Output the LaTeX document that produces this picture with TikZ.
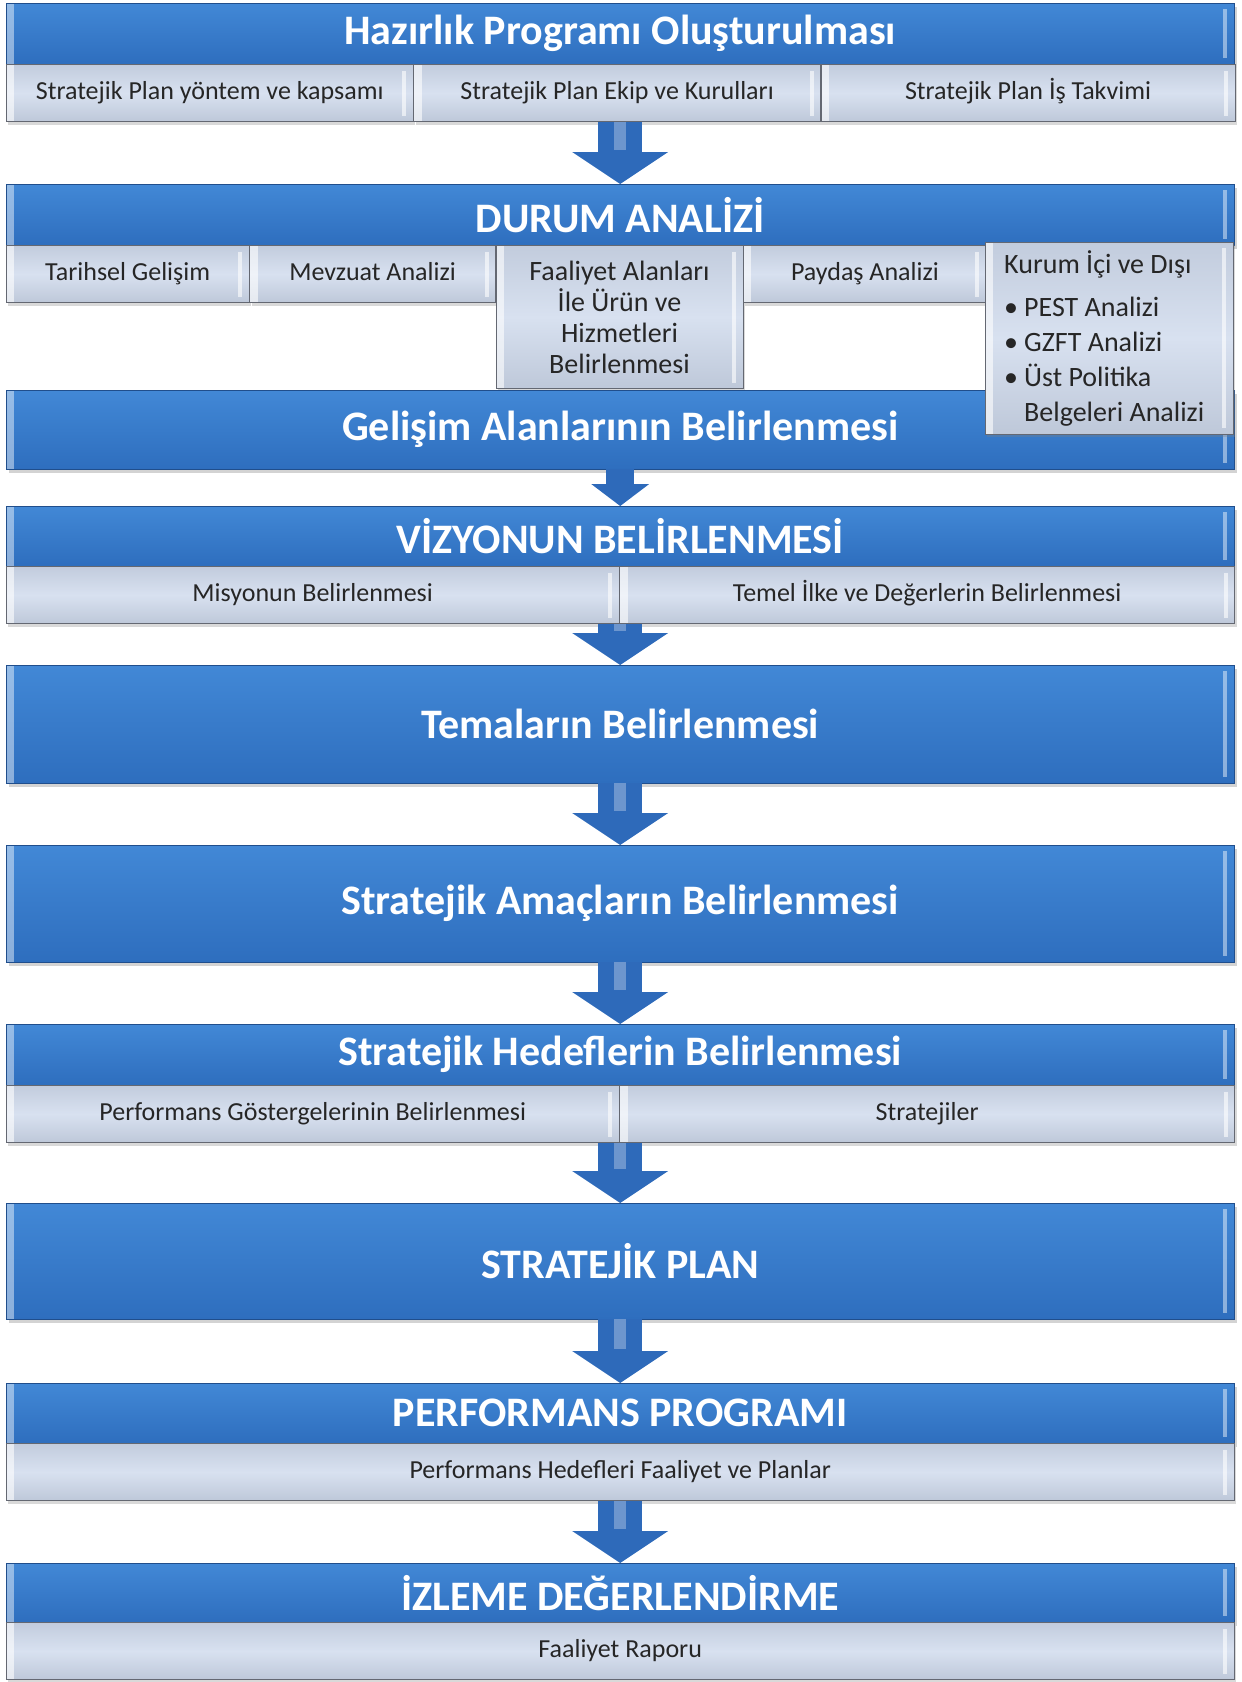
\documentclass[tikz,border=0pt]{standalone}
\usepackage{fontspec}
\setmainfont{Carlito}
\usetikzlibrary{positioning, arrows.meta, shadows}

\definecolor{barTop}{RGB}{66,136,214}
\definecolor{barBot}{RGB}{46,110,190}
\definecolor{barLine}{RGB}{32,78,140}
\definecolor{subTop}{RGB}{194,204,221}
\definecolor{subMid}{RGB}{216,225,240}
\definecolor{subBot}{RGB}{190,200,217}
\definecolor{subLine}{RGB}{100,104,114}
\definecolor{arrowBlue}{RGB}{46,106,186}

\begin{document}
\begin{tikzpicture}[x=1pt,y=-1pt,
    bevel/.style={path picture={
      \fill[#1] (path picture bounding box.north west) rectangle ([xshift=8pt]path picture bounding box.south west);
      \fill[#1] ([xshift=-11pt,yshift=-6pt]path picture bounding box.north east) rectangle ([xshift=-7pt,yshift=6pt]path picture bounding box.south east);}},
    bar/.style={draw=barLine, top color=barTop, bottom color=barBot, anchor=north west,
      minimum width=1228pt, inner sep=0pt, text=white, bevel={white,opacity=.45},
      font=\bfseries\fontsize{42}{46}\selectfont,
      drop shadow={shadow xshift=3pt,shadow yshift=-4pt,opacity=.35}},
    subbox/.style={draw=subLine, top color=subTop, bottom color=subBot, middle color=subMid,
      inner sep=0pt, minimum height=57pt, text=black!85, bevel={white,opacity=.6},
      font=\fontsize{26}{30}\selectfont,
      drop shadow={shadow xshift=2pt,shadow yshift=-3pt,opacity=.3}},
    sub/.style={subbox, text height=19pt, text depth=6pt},
    flow/.style={draw=arrowBlue, line width=44pt,
      -{Triangle[length=32pt,width=96pt,line width=0pt]},
      postaction={draw=white, draw opacity=.3, line width=12pt, -, shorten >=34pt}},
    smallflow/.style={draw=arrowBlue, line width=28pt,
      -{Triangle[length=22pt,width=58pt,line width=0pt]}}]
  \useasboundingbox (0,0) rectangle (1242,1682);

  % Hazirlik
  \node[bar, minimum height=61pt] (hazirlik) at (6,3) {Hazırlık Programı Oluşturulması};
  \node[sub, minimum width=407pt, below right=0pt of hazirlik.south west] (yontem) {Stratejik Plan yöntem ve kapsamı};
  \node[sub, minimum width=407pt, right=0pt of yontem] (ekip) {Stratejik Plan Ekip ve Kurulları};
  \node[sub, minimum width=414pt, right=0pt of ekip] (takvim) {Stratejik Plan İş Takvimi};

  % durum analizi
  \node[bar, minimum height=61pt] (durum) at (6,184) {DURUM ANALİZİ};
  \node[sub, minimum width=243pt, below right=0pt of durum.south west] (tarih) {Tarihsel Gelişim};
  \node[sub, minimum width=246pt, right=0pt of tarih] (mevzuat) {Mevzuat Analizi};
  \node[subbox, minimum width=247pt, minimum height=143pt, anchor=north west, align=center,
    font=\fontsize{28}{31}\selectfont] (faaliyet) at (mevzuat.north east)
    {\spaceskip=0pt Faaliyet Alanları\\İle Ürün ve\\Hizmetleri\\Belirlenmesi};
  \node[sub, minimum width=243pt, anchor=north west] (paydas) at (faaliyet.north east) {Paydaş Analizi};

  \node[bar, minimum height=79pt] (gelisim) at (6,390) {Gelişim Alanlarının Belirlenmesi};
  \node[subbox, minimum width=248pt, minimum height=192pt, anchor=north west, align=left,
    text width=210pt, font=\fontsize{28}{35}\selectfont] (kurum) at (985,242)
    {\spaceskip=0pt Kurum İçi ve Dışı\\[8pt]
     \makebox[20pt][l]{\textbullet}PEST Analizi\\
     \makebox[20pt][l]{\textbullet}GZFT Analizi\\
     \makebox[20pt][l]{\textbullet}Üst Politika\\
     \hspace*{20pt}Belgeleri Analizi};

  % vizyon
  \node[bar, minimum height=60pt] (vizyon) at (6,506) {VİZYONUN BELİRLENMESİ};
  \node[sub, minimum width=613pt, below right=0pt of vizyon.south west] (misyon) {Misyonun Belirlenmesi};
  \node[sub, minimum width=615pt, right=0pt of misyon] (temel) {Temel İlke ve Değerlerin Belirlenmesi};

  \node[bar, minimum height=118pt] (temalar) at (6,665) {Temaların Belirlenmesi};
  \node[bar, minimum height=117pt] (amaclar) at (6,845) {Stratejik Amaçların Belirlenmesi};

  % hedefler
  \node[bar, minimum height=61pt] (hedefler) at (6,1024) {Stratejik Hedeflerin Belirlenmesi};
  \node[sub, minimum width=613pt, below right=0pt of hedefler.south west] (gosterge) {Performans Göstergelerinin Belirlenmesi};
  \node[sub, minimum width=615pt, right=0pt of gosterge] (stratejiler) {Stratejiler};

  \node[bar, minimum height=116pt] (plan) at (6,1203) {STRATEJİK PLAN};

  \node[bar, minimum height=60pt] (perfprog) at (6,1383) {PERFORMANS PROGRAMI};
  \node[sub, minimum width=1228pt, below right=0pt of perfprog.south west] (perfhedef) {Performans Hedefleri Faaliyet ve Planlar};

  \node[bar, minimum height=59pt] (izleme) at (6,1563) {İZLEME DEĞERLENDİRME};
  \node[sub, minimum width=1228pt, below right=0pt of izleme.south west] (rapor) {Faaliyet Raporu};

  % arrows
  \foreach \a/\b in {durum.north |- ekip.south/durum.north,
                     vizyon.south |- misyon.south/temalar.north,
                     temalar.south/amaclar.north,
                     amaclar.south/hedefler.north,
                     hedefler.south |- gosterge.south/plan.north,
                     plan.south/perfprog.north,
                     perfhedef.south/izleme.north}
    \draw[flow] (\a) -- (\b);
  \draw[smallflow] (gelisim.south) -- (vizyon.north);
\end{tikzpicture}
\end{document}
